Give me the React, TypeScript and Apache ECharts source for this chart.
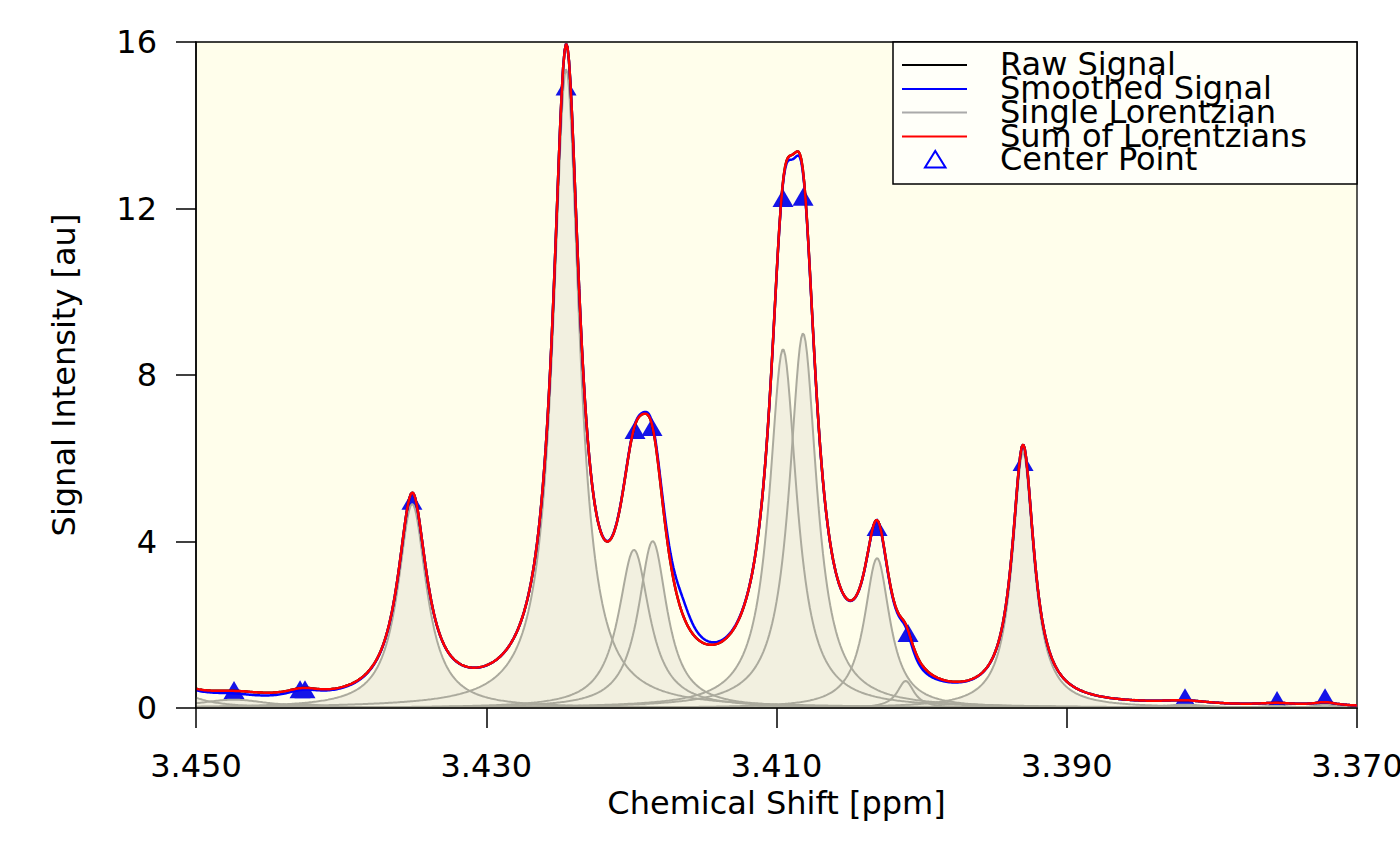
import { useEffect, useRef } from "react";
import * as echarts from "echarts";

// ---- axis ticks ----
const xTicks = [3.45, 3.43, 3.41, 3.39, 3.37];
const yTicks = [0, 4, 8, 12, 16];

// ---- fitted Lorentzian components ----
const peakShift = [3.452, 3.4474, 3.4428, 3.4425, 3.4351, 3.42449, 3.41982, 3.41853, 3.40955, 3.40817, 3.40307, 3.4011, 3.39301, 3.38185, 3.37551, 3.3722];
const peakHeight = [0.5, 0.2, 0.09, 0.09, 4.9, 15.35, 3.8, 4.01, 8.62, 9.0, 3.6, 0.65, 6.15, 0.08, 0.05, 0.08];
const peakHalfWidth = [0.002, 0.003, 0.0015, 0.0015, 0.0012, 0.0011, 0.0013, 0.0012, 0.00115, 0.00115, 0.00107, 0.0007, 0.0009, 0.002, 0.0015, 0.001];

// ---- deviations of the smoothed signal from the fitted sum ----
const smoothShift = [3.4165, 3.4088, 3.4003, 3.446];
const smoothDelta = [0.4, -0.12, -0.1, -0.07];
const smoothHalfWidth = [0.0009, 0.0006, 0.0012, 0.004];

// ---- center points (triangles) ----
const centerShift = [3.44738, 3.44283, 3.44249, 3.43512, 3.4245, 3.41975, 3.41858, 3.40955, 3.40817, 3.40307, 3.40094, 3.39301, 3.38185, 3.37551, 3.3722];
const centerIntensity = [0.43, 0.45, 0.45, 4.98, 14.93, 6.68, 6.75, 12.25, 12.28, 4.35, 1.8, 5.91, 0.26, 0.19, 0.26];

// ---- legend ----
const legendLabels = ["Raw Signal", "Smoothed Signal", "Single Lorentzian", "Sum of Lorentzians", "Center Point"];
const legendColors = ["#000000", "#0000FF", "#AAAAAA", "#FF0000", "#0000FF"];

const X_MIN = 3.37;
const X_MAX = 3.45;
const STEP = 0.0001;

const FONT = '"DejaVu Sans", "Liberation Sans", sans-serif';

function lorentz(x: number, c: number, h: number, w: number) {
  const d = x - c;
  return (h * w * w) / (d * d + w * w);
}

export default function App() {
  const ref = useRef<HTMLDivElement>(null);

  useEffect(() => {
    if (!ref.current) return;
    const chart = echarts.init(ref.current, undefined, { renderer: "svg" });

    const n = Math.round((X_MAX - X_MIN) / STEP);
    const xs: number[] = [];
    for (let i = 0; i <= n; i++) xs.push(+(X_MIN + i * STEP).toFixed(5));

    const comps = peakShift.map((c, k) => xs.map((x) => lorentz(x, c, peakHeight[k], peakHalfWidth[k])));
    const sum = xs.map((_, i) => comps.reduce((s, arr) => s + arr[i], 0));
    const smooth = xs.map((x, i) => sum[i] + smoothShift.reduce((s, c, k) => s + lorentz(x, c, smoothDelta[k], smoothHalfWidth[k]), 0));
    const raw = sum.slice();

    const pairs = (ys: number[]) => xs.map((x, i) => [x, ys[i]]);

    const series: any[] = [];
    series.push({
      type: "scatter",
      data: centerShift.map((x, i) => [x, centerIntensity[i]]),
      symbol: "triangle",
      symbolSize: [21, 18],
      itemStyle: { color: "#1414E8", opacity: 1 },
      z: 2,
      silent: true,
    });
    comps.forEach((arr) => {
      series.push({
        type: "line",
        data: pairs(arr),
        showSymbol: false,
        symbol: "none",
        lineStyle: { width: 0, opacity: 0 },
        areaStyle: { color: "#F2F0E0", opacity: 1 },
        z: 3,
        silent: true,
      });
    });
    comps.forEach((arr) => {
      series.push({
        type: "line",
        data: pairs(arr),
        showSymbol: false,
        symbol: "none",
        lineStyle: { width: 2, color: "#ABAA9D" },
        z: 4,
        silent: true,
      });
    });
    series.push({
      type: "line",
      data: pairs(raw),
      showSymbol: false,
      symbol: "none",
      lineStyle: { width: 2.5, color: "#000000" },
      z: 5,
      silent: true,
    });
    series.push({
      type: "line",
      data: pairs(smooth),
      showSymbol: false,
      symbol: "none",
      lineStyle: { width: 2.5, color: "#0000FF" },
      z: 6,
      silent: true,
    });
    series.push({
      type: "line",
      data: pairs(sum),
      showSymbol: false,
      symbol: "none",
      lineStyle: { width: 2.5, color: "#FF0000" },
      z: 7,
      silent: true,
    });

    // legend drawn as graphic elements (R-style box)
    const lx1 = 902, lx2 = 967, tx = 1000;
    const rowY = [65, 89, 112.5, 136.5, 160];
    const graphic: any[] = [
      {
        type: "rect",
        shape: { x: 893, y: 42, width: 464, height: 142 },
        style: { fill: "rgba(255,255,255,0.7)", stroke: "#000", lineWidth: 1.5 },
        z: 100,
      },
    ];
    legendLabels.forEach((label, i) => {
      if (i < 4) {
        graphic.push({
          type: "line",
          shape: { x1: lx1, y1: rowY[i], x2: lx2, y2: rowY[i] },
          style: { stroke: legendColors[i], lineWidth: 2 },
          z: 101,
        });
      } else {
        graphic.push({
          type: "polygon",
          shape: { points: [[925, 167.5], [945.5, 167.5], [935.25, 151]] },
          style: { fill: "none", stroke: legendColors[i], lineWidth: 2 },
          z: 101,
        });
      }
      graphic.push({
        type: "text",
        x: tx,
        y: rowY[i] - 1,
        style: { text: label, fontSize: 32, fontFamily: FONT, fill: "#000", verticalAlign: "middle", align: "left" },
        z: 102,
      });
    });

    const option: any = {
      animation: false,
      backgroundColor: "#FFFFFF",
      textStyle: { fontFamily: FONT },
      grid: {
        left: 196,
        right: 43,
        top: 42,
        bottom: 158,
        show: true,
        backgroundColor: "#FFFEEB",
        borderColor: "#000",
        borderWidth: 1.3,
        containLabel: false,
        outerBoundsMode: "none",
      },
      xAxis: {
        type: "value",
        inverse: true,
        min: X_MIN,
        max: X_MAX,
        z: 10,
        name: "Chemical Shift [ppm]",
        nameLocation: "middle",
        nameGap: 78,
        nameTextStyle: { fontSize: 32, color: "#000", fontFamily: FONT },
        axisLine: { show: true, onZero: false, lineStyle: { color: "#000", width: 1.5 } },
        axisTick: { show: true, inside: false, length: 20, customValues: xTicks, lineStyle: { color: "#000", width: 1.5 } },
        axisLabel: {
          show: true,
          customValues: xTicks,
          formatter: (v: number) => v.toFixed(3),
          fontSize: 32,
          color: "#000",
          margin: 42,
          fontFamily: FONT,
          showMinLabel: true,
          showMaxLabel: true,
        },
        splitLine: { show: false },
      },
      yAxis: {
        type: "value",
        min: 0,
        max: 16,
        z: 10,
        name: "Signal Intensity [au]",
        nameLocation: "middle",
        nameGap: 116,
        nameRotate: 90,
        nameTextStyle: { fontSize: 32, color: "#000", fontFamily: FONT },
        axisLine: { show: true, onZero: false, lineStyle: { color: "#000", width: 1.5 } },
        axisTick: { show: true, inside: false, length: 20, customValues: yTicks, lineStyle: { color: "#000", width: 1.5 } },
        axisLabel: {
          show: true,
          customValues: yTicks,
          formatter: (v: number) => String(v),
          fontSize: 32,
          color: "#000",
          margin: 39,
          fontFamily: FONT,
        },
        splitLine: { show: false },
      },
      series,
      graphic,
    };

    chart.setOption(option);
    return () => chart.dispose();
  }, []);

  return (
    <div
      ref={ref}
      style={{ position: "absolute", left: 0, top: 0, width: 1400, height: 866, background: "#fff" }}
    />
  );
}
